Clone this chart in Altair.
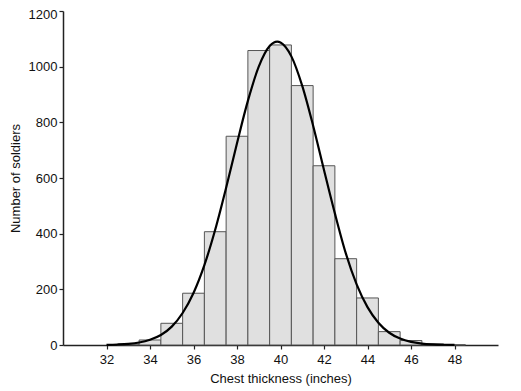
import altair as alt
import pandas as pd

# Histogram bins (chest thickness, inches) and counts
chest = [33, 34, 35, 36, 37, 38, 39, 40, 41, 42, 43, 44, 45, 46, 47, 48]
counts = [3, 18, 78, 186, 407, 750, 1058, 1078, 932, 644, 310, 169, 48, 16, 4, 1]

# Fitted normal curve
curve_x = [32.0, 32.5, 33.0, 33.5, 34.0, 34.5, 35.0, 35.5, 36.0, 36.5,
           37.0, 37.5, 38.0, 38.5, 39.0, 39.5, 39.85, 40.0, 40.5, 41.0,
           41.5, 42.0, 42.5, 43.0, 43.5, 44.0, 44.5, 45.0, 45.5, 46.0,
           46.5, 47.0, 47.5, 48.0]
curve_y = [0.7, 1.8, 4, 9, 19, 36, 66, 115, 187, 287,
           415, 565, 725, 877, 1000, 1074, 1090, 1087, 1037, 931,
           788, 629, 473, 330, 218, 136, 80, 44, 23, 11,
           5, 2.2, 0.9, 0.3]

x_ticks = [32, 34, 36, 38, 40, 42, 44, 46, 48]
y_ticks = [0, 200, 400, 600, 800, 1000, 1200]

bars = pd.DataFrame({
    "x0": [c - 0.5 for c in chest],
    "x1": [c + 0.5 for c in chest],
    "n": counts,
})
curve = pd.DataFrame({"x": curve_x, "y": curve_y})

xscale = alt.Scale(domain=[30, 50], nice=False, zero=False)
yscale = alt.Scale(domain=[0, 1200], nice=False)

xaxis = alt.Axis(values=x_ticks, title="Chest thickness (inches)",
                 grid=False, tickSize=4, labelPadding=4, titlePadding=6, format="d")
yaxis = alt.Axis(values=y_ticks, title="Number of soldiers",
                 grid=False, tickSize=4, labelPadding=2, titlePadding=6, format="d",
                 labelOffset={"expr": "datum.value == 1200 ? 3 : 0"})

hist = alt.Chart(bars).mark_rect(fill="#e0e0e0", stroke="#555555", strokeWidth=1).encode(
    x=alt.X("x0:Q", scale=xscale, axis=xaxis),
    x2="x1:Q",
    y=alt.Y("n:Q", scale=yscale, axis=yaxis),
    y2=alt.datum(0),
)

line = alt.Chart(curve).mark_line(color="#000000", strokeWidth=2.2, interpolate="monotone").encode(
    x=alt.X("x:Q", scale=xscale),
    y=alt.Y("y:Q", scale=yscale),
)

chart = alt.layer(hist, line).properties(
    width=435, height=334,
    autosize=alt.AutoSizeParams(type="none"),
    padding={"left": 55, "top": 3, "right": 15, "bottom": 46},
).configure_view(stroke=None).configure_axis(
    domainColor="#222222", domainWidth=1.5, tickColor="#222222", tickWidth=1.2,
    labelFont="Liberation Sans", titleFont="Liberation Sans",
    labelFontSize=13, titleFontSize=13, labelColor="#111111", titleColor="#111111",
    titleFontWeight="normal",
)

chart.save("out.html", embed_options={"renderer": "svg", "actions": False})
